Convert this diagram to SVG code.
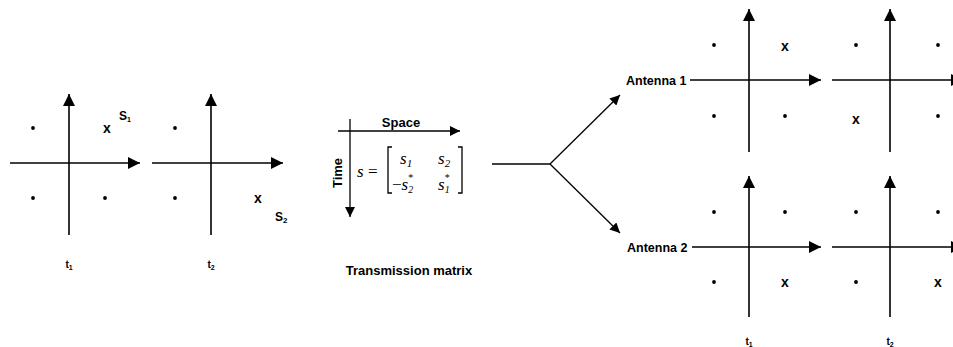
<svg xmlns="http://www.w3.org/2000/svg" width="953" height="347" viewBox="0 0 953 347">
  <style>
    .ax { stroke: #000; stroke-width: 1.6; fill: none; }
    .ln { stroke: #000; stroke-width: 1.3; fill: none; }
    .pt { fill: #000; }
    .lbl { font-family: "Liberation Sans", Arial, sans-serif; font-weight: bold; fill: #000; }
    .xm { font-family: "Liberation Sans", Arial, sans-serif; font-weight: bold; font-size: 14px; fill: #000; text-anchor: middle; }
    .mx { font-family: "Liberation Serif", "Times New Roman", serif; font-style: italic; font-size: 17px; fill: #000; }
    .mr { font-family: "Liberation Serif", "Times New Roman", serif; font-style: normal; }
  </style>
  <defs>
    <marker id="arr" viewBox="0 0 10 10" refX="10" refY="5" markerWidth="10" markerHeight="10" markerUnits="userSpaceOnUse" orient="auto">
      <path d="M0,0 L10,5 L0,10 z" fill="#000"/>
    </marker>
    <marker id="arrL" viewBox="0 0 10 10" refX="10" refY="5" markerWidth="12" markerHeight="12" markerUnits="userSpaceOnUse" orient="auto">
      <path d="M0,0 L10,5 L0,10 z" fill="#000"/>
    </marker>
  </defs>

  <!-- symbol sent at t1 -->
  <g id="const-t1">
    <line class="ax" x1="69" y1="235" x2="69" y2="94" marker-end="url(#arrL)"/>
    <line class="ax" x1="10" y1="163" x2="140" y2="163" marker-end="url(#arrL)"/>
    <circle class="pt" cx="33" cy="128" r="1.9"/>
    <circle class="pt" cx="33" cy="198" r="1.9"/>
    <circle class="pt" cx="105" cy="198" r="1.9"/>
    <text class="xm" x="107" y="133">x</text>
    <text class="lbl" x="119" y="120" font-size="12">S<tspan font-size="7" dy="2">1</tspan></text>
    <text class="lbl" x="69" y="268" font-size="10" text-anchor="middle">t<tspan font-size="7" dy="2">1</tspan></text>
  </g>

  <!-- symbol sent at t2 -->
  <g id="const-t2">
    <line class="ax" x1="211" y1="235" x2="211" y2="94" marker-end="url(#arrL)"/>
    <line class="ax" x1="152" y1="163" x2="283" y2="163" marker-end="url(#arrL)"/>
    <circle class="pt" cx="175" cy="128" r="1.9"/>
    <circle class="pt" cx="175" cy="198" r="1.9"/>
    <text class="xm" x="258" y="203">x</text>
    <text class="lbl" x="275" y="221" font-size="12">S<tspan font-size="8" dy="2">2</tspan></text>
    <text class="lbl" x="211" y="268" font-size="10" text-anchor="middle">t<tspan font-size="7" dy="2">2</tspan></text>
  </g>

  <!-- space-time transmission matrix -->
  <g id="matrix">
    <line class="ln" x1="338" y1="131" x2="460" y2="131" marker-end="url(#arr)"/>
    <line class="ln" x1="350" y1="119" x2="350" y2="217" marker-end="url(#arr)"/>
    <text class="lbl" x="401" y="127" font-size="13" text-anchor="middle">Space</text>
    <text class="lbl" font-size="13" text-anchor="middle" transform="translate(342,173) rotate(-90)">Time</text>
    <text class="mx" x="357" y="177">s <tspan class="mr">=</tspan></text>
    <path class="ln" d="M392,147 H388 V193 H392"/>
    <path class="ln" d="M458,147 H462 V193 H458"/>
    <text class="mx" x="400" y="164">s<tspan font-size="11" dy="3">1</tspan></text>
    <text class="mx" x="438" y="164">s<tspan font-size="11" dy="3">2</tspan></text>
    <text class="mx" x="392" y="190"><tspan class="mr">−</tspan>s<tspan class="mr" font-size="10" dy="-9">*</tspan><tspan font-size="10" dx="-5" dy="12">2</tspan></text>
    <text class="mx" x="438" y="190">s<tspan class="mr" font-size="10" dy="-9">*</tspan><tspan font-size="10" dx="-5" dy="12">1</tspan></text>
    <text class="lbl" x="409" y="275" font-size="13" text-anchor="middle">Transmission matrix</text>
  </g>

  <!-- split to the two antennas -->
  <g id="connectors">
    <line class="ln" x1="492" y1="164" x2="550" y2="164"/>
    <line class="ln" x1="550" y1="164" x2="620" y2="95" marker-end="url(#arr)"/>
    <line class="ln" x1="550" y1="164" x2="620" y2="233" marker-end="url(#arr)"/>
  </g>

  <!-- antenna 1, t1 -->
  <g id="ant1-t1">
    <text class="lbl" x="626" y="85" font-size="12.5">Antenna 1</text>
    <line class="ln" x1="690" y1="80" x2="821" y2="80" marker-end="url(#arrL)"/>
    <line class="ax" x1="749" y1="152" x2="749" y2="9" marker-end="url(#arrL)"/>
    <circle class="pt" cx="714" cy="45" r="1.9"/>
    <circle class="pt" cx="714" cy="116" r="1.9"/>
    <circle class="pt" cx="785" cy="116" r="1.9"/>
    <text class="xm" x="785" y="51">x</text>
  </g>

  <!-- antenna 1, t2 -->
  <g id="ant1-t2">
    <line class="ln" x1="832" y1="80" x2="963" y2="80" marker-end="url(#arrL)"/>
    <line class="ax" x1="890" y1="152" x2="890" y2="9" marker-end="url(#arrL)"/>
    <circle class="pt" cx="856" cy="45" r="1.9"/>
    <circle class="pt" cx="938" cy="45" r="1.9"/>
    <circle class="pt" cx="938" cy="116" r="1.9"/>
    <text class="xm" x="856" y="124">x</text>
  </g>

  <!-- antenna 2, t1 -->
  <g id="ant2-t1">
    <text class="lbl" x="627" y="252" font-size="12.5">Antenna 2</text>
    <line class="ln" x1="692" y1="247" x2="821" y2="247" marker-end="url(#arrL)"/>
    <line class="ax" x1="749" y1="317" x2="749" y2="176" marker-end="url(#arrL)"/>
    <circle class="pt" cx="714" cy="212" r="1.9"/>
    <circle class="pt" cx="785" cy="212" r="1.9"/>
    <circle class="pt" cx="714" cy="282" r="1.9"/>
    <text class="xm" x="785" y="287">x</text>
    <text class="lbl" x="749" y="345" font-size="10" text-anchor="middle">t<tspan font-size="7" dy="2">1</tspan></text>
  </g>

  <!-- antenna 2, t2 -->
  <g id="ant2-t2">
    <line class="ln" x1="832" y1="247" x2="963" y2="247" marker-end="url(#arrL)"/>
    <line class="ax" x1="890" y1="317" x2="890" y2="176" marker-end="url(#arrL)"/>
    <circle class="pt" cx="856" cy="212" r="1.9"/>
    <circle class="pt" cx="938" cy="212" r="1.9"/>
    <circle class="pt" cx="856" cy="282" r="1.9"/>
    <text class="xm" x="938" y="287">x</text>
    <text class="lbl" x="890" y="345" font-size="10" text-anchor="middle">t<tspan font-size="7" dy="2">2</tspan></text>
  </g>
</svg>
